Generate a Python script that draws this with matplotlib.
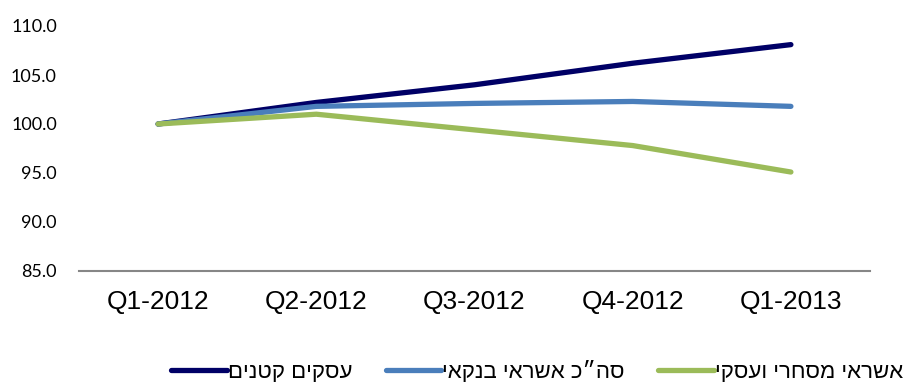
import matplotlib.pyplot as plt

quarters = ['Q1-2012', 'Q2-2012', 'Q3-2012', 'Q4-2012', 'Q1-2013']
small_biz = [100.0, 102.2, 104.0, 106.2, 108.1]
bank_credit = [100.0, 101.8, 102.1, 102.3, 101.8]
trade_credit = [100.0, 101.0, 99.4, 97.8, 95.1]

names = ['עסקים קטנים', 'סה״כ אשראי בנקאי', 'אשראי מסחרי ועסקי']
colors = ['#000066', '#4a7ebb', '#9bbb59']

def rtl(s):
    # matplotlib has no bidi support, flip hebrew by hand
    return s[::-1]

plt.rcParams['font.family'] = ['Liberation Sans', 'DejaVu Sans']

fig = plt.figure(figsize=(9.05, 3.83), dpi=100)
ax = fig.add_axes([79/905, 1-271/383, (870-79)/905, (271-26)/383])

x = range(len(quarters))
for vals, name, c in zip([small_biz, bank_credit, trade_credit], names, colors):
    ax.plot(x, vals, color=c, lw=3.8, solid_capstyle='round', label=rtl(name))

ax.set_xlim(-0.5, len(quarters) - 0.5)
ax.set_ylim(85, 110)
ax.set_yticks([85, 90, 95, 100, 105, 110])
ax.set_yticklabels(['%.1f' % v for v in ax.get_yticks()], fontsize=13, family=['Lato', 'DejaVu Sans'])
ax.set_xticks(list(x))
ax.set_xticklabels(quarters, fontsize=19)
ax.tick_params(length=0)
ax.tick_params(axis='x', pad=14)
ax.tick_params(axis='y', pad=16)

for s in ['top', 'right', 'left']:
    ax.spines[s].set_visible(False)
ax.spines['bottom'].set_color('#868686')
ax.spines['bottom'].set_linewidth(1.5)

fig.legend(loc='center right', bbox_to_anchor=(903/905, 1-372/383), ncol=3, frameon=False,
           fontsize=16, handlelength=2.5, columnspacing=1.5, handletextpad=0.05,
           borderpad=0, borderaxespad=0)

fig.savefig('out.png', dpi=100)
